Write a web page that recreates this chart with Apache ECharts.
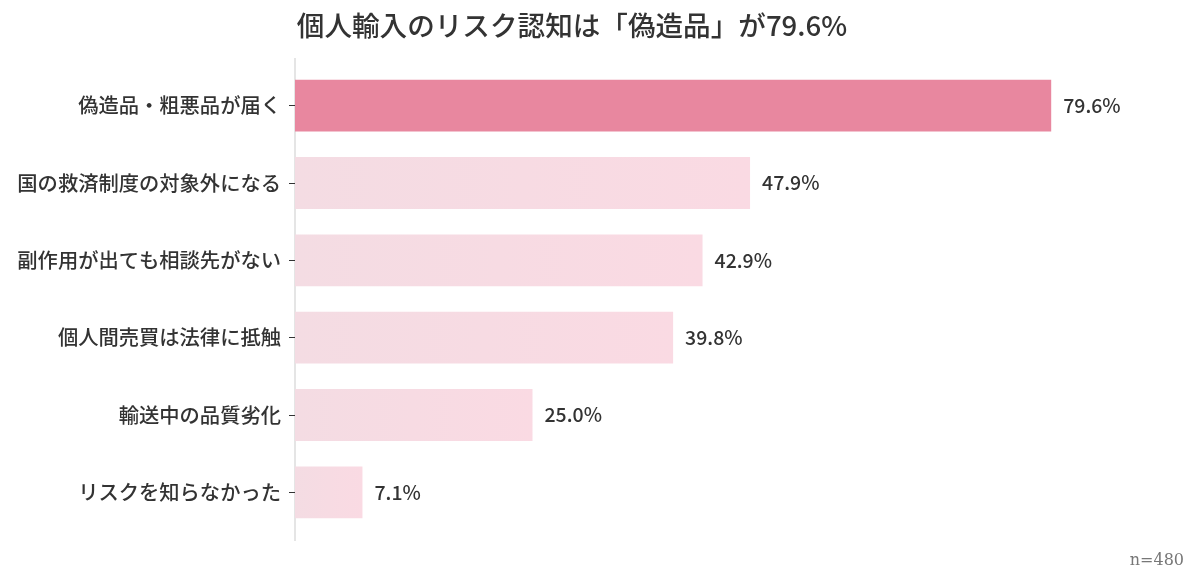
<!DOCTYPE html>
<html><head><meta charset="utf-8">
<script src="https://cdn.jsdelivr.net/npm/echarts@6/dist/echarts.min.js"></script>
<style>html,body{margin:0;padding:0;background:#fff;}#c{width:1200px;height:588px;}</style>
</head><body><div id="c"></div>
<script>
const categories = ["偽造品・粗悪品が届く","国の救済制度の対象外になる","副作用が出ても相談先がない","個人間売買は法律に抵触","輸送中の品質劣化","リスクを知らなかった"];
const values = [79.6, 47.9, 42.9, 39.8, 25.0, 7.1];
const titleText = "個人輸入のリスク認知は「偽造品」が79.6%";
const noteText = "n=480";

const chart = echarts.init(document.getElementById('c'));
const font = "'Noto Sans CJK JP', 'Noto Sans', sans-serif";
chart.setOption({
  backgroundColor: '#fff',
  title: { text: titleText, left: 567, top: 7, textAlign: 'center',
    textStyle: { fontFamily: font, fontSize: 27.6, fontWeight: 500, color: '#333' } },
  graphic: [
    { type: 'line', shape: { x1: 295, y1: 58, x2: 295, y2: 541 }, style: { stroke: '#ddd', lineWidth: 1.5 } },
    { type: 'text', right: 16, top: 553,
      style: { text: noteText, fontFamily: "'DejaVu Serif', serif", fontSize: 16, fill: '#777' } }],
  grid: { left: 295, right: 50, top: 67, bottom: 57 },
  xAxis: { type: 'value', min: 0, max: 90, show: false },
  yAxis: { type: 'category', data: categories, inverse: true,
    axisLine: { show: false },
    axisTick: { show: true, length: 6, alignWithLabel: true, lineStyle: { color: '#333' } },
    axisLabel: { fontFamily: font, fontSize: 20.3, fontWeight: 500, color: '#333', margin: 14 } },
  series: [{
    type: 'bar', barWidth: '67%',
    data: values.map((v, i) => ({ value: v,
      itemStyle: { color: i === 0 ? '#E8879F' : new echarts.graphic.LinearGradient(0, 0, 1, 0, [
        { offset: 0, color: '#F4DCE3' }, { offset: 1, color: '#FADAE3' }]) } })),
    label: { show: true, position: 'right', distance: 12, formatter: p => p.value.toFixed(1) + '%',
      fontFamily: font, fontSize: 19.5, fontWeight: 500, color: '#333' }
  }]
});
</script></body></html>
